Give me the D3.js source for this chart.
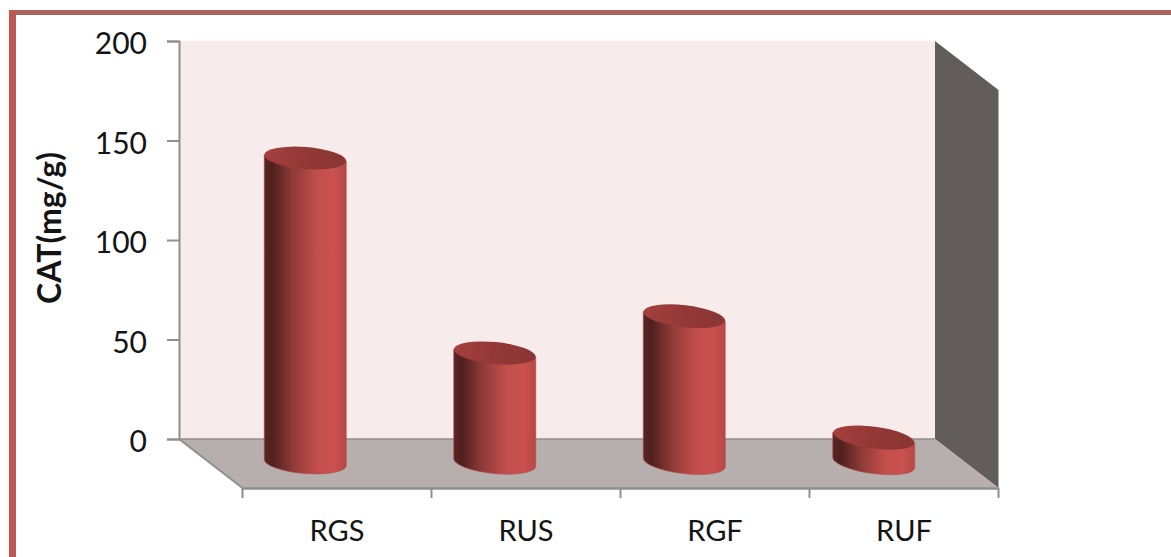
<!DOCTYPE html>
<html>
<head>
<meta charset="utf-8">
<script src="https://cdn.jsdelivr.net/npm/d3@7/dist/d3.min.js"></script>
<style>
  html, body { margin: 0; padding: 0; background: #fff; }
  svg { display: block; }
  text { font-family: Lato, "Open Sans", sans-serif; fill: #141414; }
</style>
</head>
<body>
<svg id="chart" width="1171" height="557"></svg>
<script>
// CAT content per sample
const categories = ["RGS", "RUS", "RGF", "RUF"];
const values = [153, 55, 73.5, 12.5];
const yTicks = [0, 50, 100, 150, 200];
const yTitle = "CAT(mg/g)";

const svg = d3.select("#chart");
const W = 1171, H = 557;

// Plot box: back wall plus the oblique offset of the floor
const wall = { left: 179, right: 935, top: 41, bottom: 439 };
const depth = { x: 63.5, y: 49 };

const y = d3.scaleLinear().domain([0, 200]).range([wall.bottom, wall.top]);
const xFront = d3.scaleBand().domain(categories)
  .range([wall.left + depth.x, wall.right + depth.x]);
// Bars stand about halfway through the floor depth
const xBars = d3.scaleBand().domain(categories).range([210.5, 968.5]);
const barRx = 41;
const barRy = 11;
const cx = c => xBars(c) + xBars.bandwidth() / 2;
const baseY = 462.5;
// Ellipse tilt grows towards the right because of the camera angle
const tilt = d3.scaleLinear().domain([cx(categories[0]), cx(categories[3])]).range([4.5, 7.5]);

const defs = svg.append("defs");
const bodyGrad = defs.append("linearGradient").attr("id", "barBody");
[[0, "#5a2523"], [0.1, "#4f201e"], [0.35, "#8f3b38"], [0.65, "#c34f4c"], [0.85, "#c9514e"], [1, "#b84845"]]
  .forEach(([o, c]) => bodyGrad.append("stop").attr("offset", o).attr("stop-color", c));
const topGrad = defs.append("linearGradient").attr("id", "barTop");
[[0, "#a5403e"], [0.5, "#933836"], [1, "#8a3634"]]
  .forEach(([o, c]) => topGrad.append("stop").attr("offset", o).attr("stop-color", c));

// Slide frame
svg.append("rect").attr("x", 9).attr("y", 10).attr("width", W - 9).attr("height", 5).attr("fill", "#a9625e");
svg.append("rect").attr("x", 9).attr("y", 10).attr("width", 7).attr("height", H - 10).attr("fill", "#bf5753");

// Wall, side panel and floor
svg.append("rect")
  .attr("x", wall.left).attr("y", wall.top)
  .attr("width", wall.right - wall.left).attr("height", wall.bottom - wall.top)
  .attr("fill", "#f7eceb");
const poly = pts => "M" + pts.map(p => p.join(",")).join("L") + "Z";
svg.append("path")
  .attr("d", poly([[wall.right, wall.top], [wall.right + depth.x, wall.top + depth.y],
                   [wall.right + depth.x, wall.bottom + depth.y], [wall.right, wall.bottom]]))
  .attr("fill", "#625d5b");
svg.append("path")
  .attr("d", poly([[wall.left, wall.bottom], [wall.right, wall.bottom],
                   [wall.right + depth.x, wall.bottom + depth.y], [wall.left + depth.x, wall.bottom + depth.y]]))
  .attr("fill", "#b7afad");

// Value axis
const axisColor = "#8f8f8f";
const yAxis = svg.append("g")
  .attr("transform", `translate(${wall.left},0)`)
  .call(d3.axisLeft(y).tickValues(yTicks).tickSize(12).tickPadding(20));
yAxis.selectAll("path, line").attr("stroke", axisColor).attr("stroke-width", 2);
yAxis.selectAll("text").style("font-size", "30px").attr("y", 3);

// Category axis along the front of the floor
const xAxis = svg.append("g")
  .attr("transform", `translate(0,${wall.bottom + depth.y})`)
  .call(d3.axisBottom(xFront).tickSize(0).tickPadding(32));
xAxis.selectAll("path").attr("stroke", axisColor).attr("stroke-width", 2.5);
xAxis.selectAll("text").style("font-size", "29px");
xAxis.selectAll(".edge")
  .data(d3.range(categories.length + 1).map(i => xFront.range()[0] + i * xFront.step()))
  .join("line").attr("class", "edge")
  .attr("x1", d => d).attr("x2", d => d).attr("y1", 0).attr("y2", 10)
  .attr("stroke", axisColor).attr("stroke-width", 2);

// Oblique floor edge
svg.append("line")
  .attr("x1", wall.left).attr("y1", wall.bottom)
  .attr("x2", wall.left + depth.x).attr("y2", wall.bottom + depth.y)
  .attr("stroke", axisColor).attr("stroke-width", 2);
svg.append("line")
  .attr("x1", wall.left).attr("y1", wall.bottom).attr("x2", wall.right).attr("y2", wall.bottom)
  .attr("stroke", axisColor).attr("stroke-width", 1.5);

// Cylinders: body with a lower elliptical edge, capped by a tilted ellipse
const bars = svg.append("g").selectAll("g")
  .data(categories.map((c, i) => ({ c, v: values[i] })))
  .join("g")
  .attr("transform", d => `translate(${cx(d.c)},0)`);

bars.append("path")
  .attr("fill", "url(#barBody)")
  .attr("stroke", "#b04a47").attr("stroke-width", 0.6)
  .attr("d", d => {
    const h = y(0) - y(d.v);
    const a = tilt(cx(d.c));
    const dy = barRx * Math.sin(a * Math.PI / 180);
    const t = baseY - h;
    return `M${-barRx},${t - dy} L${-barRx},${baseY - dy}` +
      ` A${barRx},${barRy} ${a} 0 0 ${barRx},${baseY + dy}` +
      ` L${barRx},${t + dy} Z`;
  });
bars.append("ellipse")
  .attr("rx", barRx).attr("ry", barRy)
  .attr("transform", d => `translate(0,${baseY - (y(0) - y(d.v))}) rotate(${tilt(cx(d.c))})`)
  .attr("fill", "url(#barTop)");

// Axis title
svg.append("text")
  .attr("transform", "translate(61,228) rotate(-90)")
  .attr("text-anchor", "middle")
  .style("font-size", "32px").style("font-weight", 700)
  .text(yTitle);
</script>
</body>
</html>
